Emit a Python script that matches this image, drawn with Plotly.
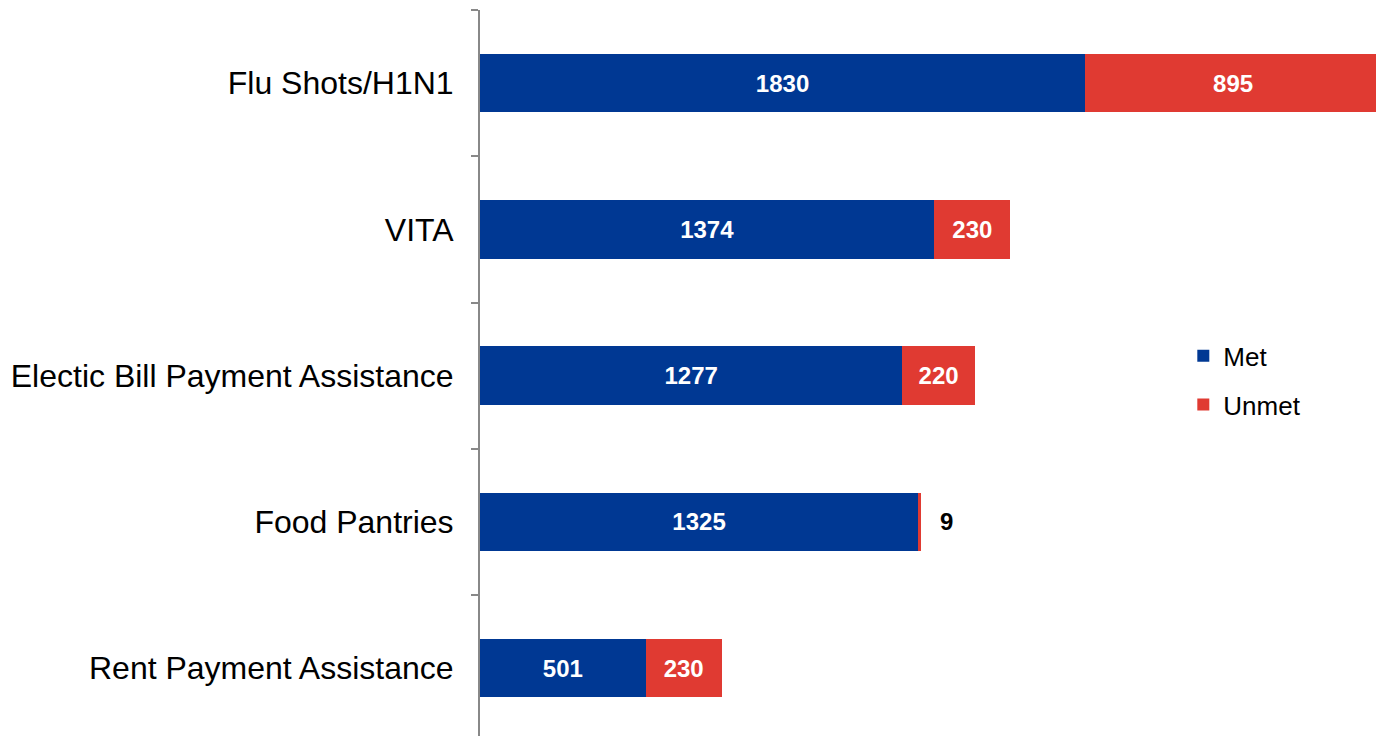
import plotly.graph_objects as go

categories = ["Flu Shots/H1N1", "VITA", "Electic Bill Payment Assistance", "Food Pantries", "Rent Payment Assistance"]
met = [1830, 1374, 1277, 1325, 501]
unmet = [895, 230, 220, 9, 230]

BLUE = "#003893"
RED = "#E03A32"
FONT = "Liberation Sans, Arial, sans-serif"

met_text = [str(v) for v in met]
unmet_text = [str(v) if v >= 50 else "" for v in unmet]

fig = go.Figure()
fig.add_trace(go.Bar(
    y=categories, x=met, orientation="h", name="Met",
    marker=dict(color=BLUE, line=dict(width=0)),
    text=met_text, textposition="inside", insidetextanchor="middle",
    textfont=dict(color="white", size=24, family=FONT, weight="bold"),
    legendgroup="a",
))
fig.add_trace(go.Bar(
    y=categories, x=unmet, orientation="h", name="Unmet",
    marker=dict(color=RED, line=dict(width=0)),
    text=unmet_text, textposition="inside", insidetextanchor="middle",
    textfont=dict(color="white", size=24, family=FONT, weight="bold"),
    legendgroup="b",
))

# outside label for small unmet values
for c, m, u in zip(categories, met, unmet):
    if u < 50:
        fig.add_annotation(
            x=m + u, y=c, text=f"<b>{u}</b>", showarrow=False,
            xanchor="left", xshift=17,
            font=dict(color="black", size=24, family=FONT),
        )

total_max = max(a + b for a, b in zip(met, unmet))
n = len(categories)

# page body has an 8px margin, so the figure is sized/offset to compensate
fig.update_layout(
    width=1376, height=728,
    barmode="stack", bargap=0.6,
    plot_bgcolor="white", paper_bgcolor="white",
    margin=dict(l=472, r=0, t=2, b=0),
    font=dict(family=FONT, color="black"),
    xaxis=dict(visible=False, range=[0, total_max * 1.0033], automargin=False),
    yaxis=dict(
        categoryorder="array", categoryarray=categories,
        range=[n - 0.536, -0.5], automargin=False,
        showline=True, linecolor="#888888", linewidth=2,
        ticks="outside", tickson="boundaries", ticklen=7, tickcolor="#888888", tickwidth=2,
        tickfont=dict(size=32, family=FONT, color="black"),
        ticklabelstandoff=18,
        showgrid=False, zeroline=False,
    ),
    legend=dict(
        x=0.778, y=0.556, xanchor="left", yanchor="top",
        font=dict(size=26, family=FONT, color="black"),
        tracegroupgap=12, bgcolor="rgba(0,0,0,0)",
        itemwidth=30,
    ),
    showlegend=True,
)

fig.write_html("out.html")
